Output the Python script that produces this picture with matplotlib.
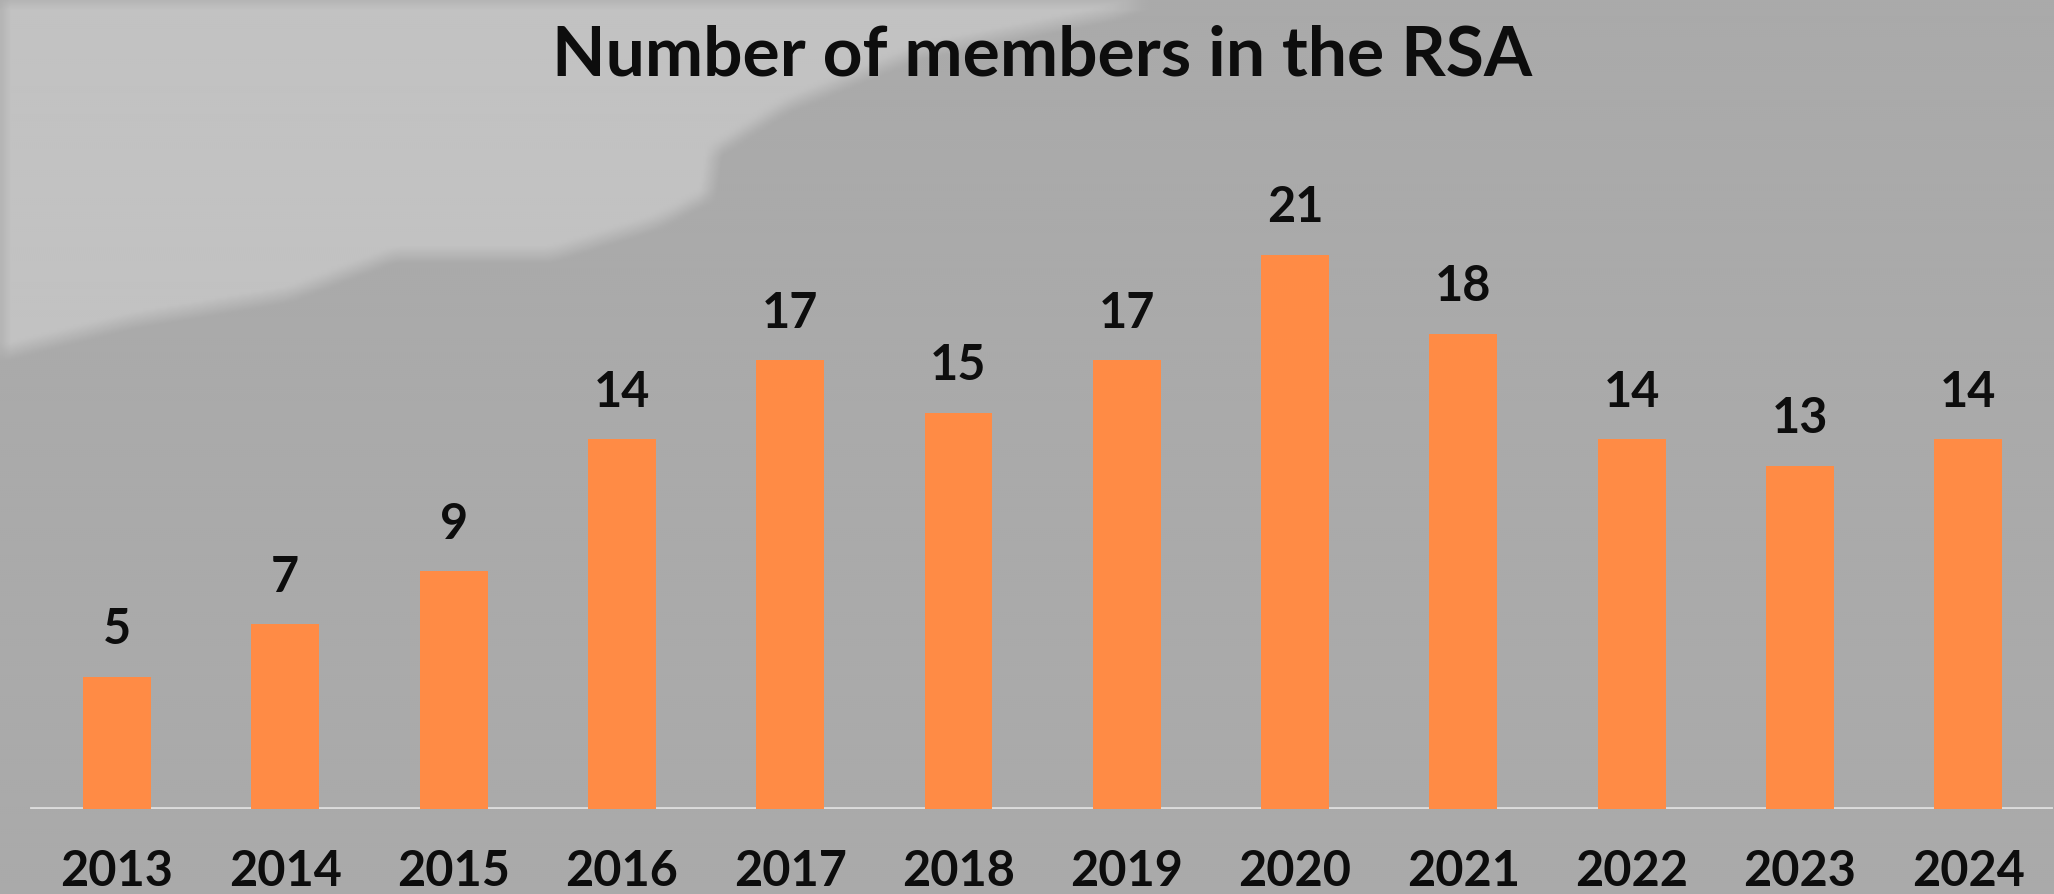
import numpy as np
import matplotlib
matplotlib.use("Agg")
import matplotlib.pyplot as plt
from matplotlib.path import Path

years = ["2013", "2014", "2015", "2016", "2017", "2018",
         "2019", "2020", "2021", "2022", "2023", "2024"]
members = [5, 7, 9, 14, 17, 15, 17, 21, 18, 14, 13, 14]
title = "Number of members in the RSA"

W, H = 2054, 895
plt.rcParams['font.family'] = ['Lato', 'DejaVu Sans']

fig = plt.figure(figsize=(W / 100, H / 100), dpi=100)

# background: grey with a lighter cloud patch top-left
bg = fig.add_axes([0, 0, 1, 1])
bg.set_axis_off()
cloud = [(0, 354), (131, 321), (288, 295), (393, 255), (550, 255), (655, 223),
         (707, 196), (714, 151), (786, 105), (917, 52), (1113, 13), (1150, 0),
         (0, 0)]
yy, xx = np.mgrid[0:H:2, 0:W:2]
pts = np.column_stack([xx.ravel(), yy.ravel()])
mask = Path(cloud).contains_points(pts).reshape(xx.shape).astype(float)
for ax_ in (0, 1):
    k = np.ones(9) / 9
    mask = np.apply_along_axis(lambda r: np.convolve(r, k, mode='same'), ax_, mask)
img = 0.665 + mask * (0.76 - 0.665)
bg.imshow(img, cmap='gray', vmin=0, vmax=1, aspect='auto',
          extent=[0, W, H, 0], interpolation='bilinear')
bg.set_xlim(0, W)
bg.set_ylim(H, 0)

ax = fig.add_axes([0, 85 / H, 1, 810 / H])
ax.patch.set_alpha(0)
x = np.arange(len(years))
bars = ax.bar(x, members, width=0.404, color='#FF8B45', zorder=3)
ax.set_xlim(-117 / 168.3, (W - 117) / 168.3)
ax.set_ylim(0, 810 / 26.4)
ax.axhline(0, xmin=32 / W, xmax=2050 / W, color='#dcdcdc', lw=3.5, zorder=2)
for s in ax.spines.values():
    s.set_visible(False)
ax.set_yticks([])
ax.set_xticks(x, years)
ax.tick_params(axis='x', length=0, pad=28, labelsize=35)
for t in ax.get_xticklabels():
    t.set_fontweight('bold')
    t.set_color('#0d0d0d')
ax.bar_label(bars, labels=[str(v) for v in members], padding=18.5,
             fontsize=35, fontweight='bold', color='#0d0d0d')

fig.text(1042 / W, 1 - 75 / H, title, ha='center', va='baseline',
         fontsize=50, fontweight='bold', color='#0d0d0d')

fig.savefig('out.png', dpi=100)
